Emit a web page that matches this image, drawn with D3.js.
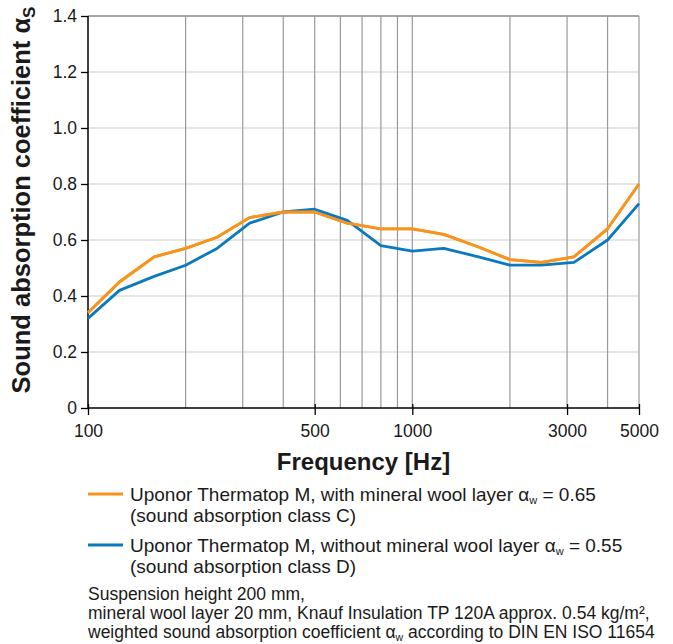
<!DOCTYPE html>
<html><head><meta charset="utf-8">
<script src="https://cdn.jsdelivr.net/npm/d3@7"></script>
<style>body{margin:0;background:#fff}svg{display:block}text{font-family:"Liberation Sans",Arial,sans-serif;fill:#1a1a1a}</style>
</head><body><svg id="c" width="673" height="644"></svg>
<script>
const freqs = [100,125,160,200,250,315,400,500,630,800,1000,1250,1600,2000,2500,3150,4000,5000];
const withWool = [0.34,0.45,0.54,0.57,0.61,0.68,0.70,0.70,0.66,0.64,0.64,0.62,0.575,0.53,0.52,0.54,0.64,0.80];
const withoutWool = [0.32,0.42,0.47,0.51,0.57,0.66,0.70,0.71,0.67,0.58,0.56,0.57,0.54,0.51,0.51,0.52,0.60,0.73];
const xTickValues = [100,500,1000,3000,5000];
const xGridValues = [200,300,400,500,600,700,800,900,1000,2000,3000,4000,5000];
const yTickValues = [0,0.2,0.4,0.6,0.8,1.0,1.2,1.4];
const seriesNames = ["Uponor Thermatop M, with mineral wool layer α","Uponor Thermatop M, without mineral wool layer α"];
const seriesAw = ["0.65","0.55"];
const seriesClass = ["(sound absorption class C)","(sound absorption class D)"];
const notes = ["Suspension height 200 mm,","mineral wool layer 20 mm, Knauf Insulation TP 120A approx. 0.54 kg/m²,","weighted sound absorption coefficient α|w| according to DIN EN ISO 11654"];
const colors = ["#f7941e","#0a79c0"];

const svg = d3.select("#c");
const L=88,R=639,T=16,B=408;
const x = d3.scaleLog().domain([100,5000]).range([L,R]);
const y = d3.scaleLinear().domain([0,1.4]).range([B,T]);

// horizontal grid
svg.append("g").selectAll("line").data(yTickValues.filter(v=>v>0&&v<1.4)).join("line")
  .attr("x1",L).attr("x2",R).attr("y1",d=>y(d)).attr("y2",d=>y(d))
  .attr("stroke","#dcdcdc").attr("stroke-width",1.5);
// top border
svg.append("line").attr("x1",L).attr("x2",R).attr("y1",y(1.4)).attr("y2",y(1.4)).attr("stroke","#8a8a8a").attr("stroke-width",1.5);
// vertical grid
svg.append("g").selectAll("line").data(xGridValues).join("line")
  .attr("x1",d=>x(d)).attr("x2",d=>x(d)).attr("y1",T).attr("y2",B)
  .attr("stroke","#999").attr("stroke-width",1.2);

// axes
const yAxis = svg.append("g").attr("transform",`translate(${L},0)`)
  .call(d3.axisLeft(y).tickValues(yTickValues).tickFormat(d=>d===0?"0":d.toFixed(1)).tickSize(7).tickPadding(4));
const xAxis = svg.append("g").attr("transform",`translate(0,${B})`)
  .call(d3.axisBottom(x).tickValues(xTickValues).tickFormat(d3.format("d")).tickSize(7).tickPadding(10));
[yAxis,xAxis].forEach(a=>{
  a.select(".domain").attr("stroke","#000").attr("stroke-width",1.5);
  a.selectAll(".tick line").attr("stroke","#000").attr("stroke-width",1.3);
  a.selectAll(".tick text").attr("font-size",17.5).attr("fill","#1a1a1a").attr("font-family","Liberation Sans, Arial, sans-serif");
});
xAxis.select(".domain").attr("d",`M${L},0H${R}`);
yAxis.select(".domain").attr("d",`M0,${B}V${T}`);
xAxis.selectAll(".tick line").attr("y1",-4);

// lines
const line = d3.line().x((d,i)=>x(freqs[i])).y(d=>y(d));
[withWool,withoutWool,withWool].forEach((s,i)=>{
  svg.append("path").datum(s).attr("d",line).attr("fill","none")
    .attr("stroke",colors[i%2]).attr("stroke-width",2.8).attr("stroke-linejoin","round");
});

// y title
const yt = svg.append("text").attr("transform","translate(30,200) rotate(-90)")
  .attr("text-anchor","middle").attr("font-size",25.5).attr("font-weight","bold");
yt.append("tspan").text("Sound absorption coefficient α");
yt.append("tspan").text("S").attr("font-size",17).attr("dy",5);

// x title
svg.append("text").attr("x",(L+R)/2).attr("y",470).attr("text-anchor","middle")
  .attr("font-size",24).attr("font-weight","bold").text("Frequency [Hz]");

// legend
const legY=[494,545];
legY.forEach((ly,i)=>{
  svg.append("line").attr("x1",88).attr("x2",123).attr("y1",ly).attr("y2",ly)
    .attr("stroke",colors[i]).attr("stroke-width",2.8);
  const t = svg.append("text").attr("x",130).attr("y",ly+7).attr("font-size",19);
  t.append("tspan").text(seriesNames[i]);
  t.append("tspan").text("w").attr("font-size",11).attr("dy",3);
  t.append("tspan").text(" = "+seriesAw[i]).attr("dy",-3);
  svg.append("text").attr("x",130).attr("y",ly+28).attr("font-size",19).text(seriesClass[i]);
});

// notes
notes.forEach((n,i)=>{
  const t = svg.append("text").attr("x",88).attr("y",600+i*19).attr("font-size",17.5);
  const parts = n.split("|");
  if(parts.length===1){ t.text(n); }
  else {
    t.append("tspan").text(parts[0]);
    t.append("tspan").text(parts[1]).attr("font-size",10.5).attr("dy",3);
    t.append("tspan").text(parts[2]).attr("dy",-3);
  }
});
</script></body></html>
